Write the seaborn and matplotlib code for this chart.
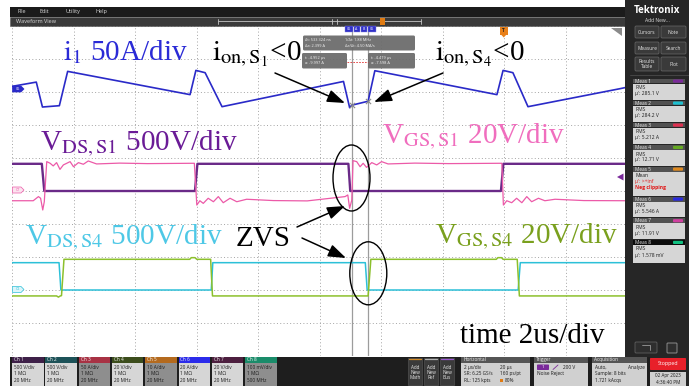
import matplotlib
matplotlib.use("Agg")
import matplotlib.pyplot as plt
import seaborn as sns
import pandas as pd
import numpy as np
from matplotlib.patches import Rectangle, FancyBboxPatch, Ellipse, Polygon

sns.set_theme(style="white")
plt.rcParams["font.family"] = ["Open Sans", "DejaVu Sans"]
plt.rcParams["mathtext.fontset"] = "stix"

W, H = 689, 386
# graticule edges in screen pixels
GX0, GX1, GY0, GY1 = 12, 627, 26, 356

# horizontal: 2 us/div, 20 us record, trigger at 80 %
T_MIN, T_MAX, T_DIV = -16.0, 4.0, 2.0

# ---------------- acquired waveforms ----------------
# Ch6 - inductor current i1 [A]
i1_t = [-16.0, -15.21, -15.01, -14.46, -14.19, -10.21, -10.02, -9.72, -9.17,
        -5.22, -5.02, -4.952, -4.419, -4.20, -0.23, -0.03, 0.29, 0.78, 3.77, 4.0]
i1_a = [1.4, 4.0, -11.1, -10.3, 10.5, -3.6, 11.1, 9.7, -10.9,
        4.4, -11.5, -10.0, -7.6, 10.9, -3.6, 11.1, 9.7, -10.9, 0.0, 0.9]

# Ch1 - drain-source voltage of S1 [V]
vds1_t = [-16.0, -15.03, -14.95, -10.05, -9.97, -5.06, -5.00, -0.10, -0.02, 4.0]
vds1_v = [412, 412, 0, 0, 412, 412, 0, 0, 412, 412]

# Ch7 - gate-source voltage of S1 [V]
vgs1_t = [-16.0, -15.31, -15.14, -15.07, -15.00, -14.95, -14.87, -14.76, -14.66,
          -14.55, -14.44, -14.33, -14.22, -14.11, -14.00, -13.84, -13.68, -13.52,
          -13.25, -12.5, -11.6, -10.13, -10.07, -9.99, -9.89, -9.78, -9.62,
          -9.45, -9.29, -9.13, -8.91, -8.69, -8.37, -7.5, -6.4, -5.17,
          -5.08, -5.02, -4.95, -4.91, -4.79, -4.68, -4.58, -4.47, -4.30,
          -4.14, -3.98, -3.77, -2.9, -1.8, -0.13, -0.07, -0.02, 0.09,
          0.25, 0.41, 0.58, 0.74, 0.90, 1.12, 1.33, 1.66, 2.6, 4.0]
vgs1_v = [-5.9, -5.9, -3.4, -4.4, -11.5, -6.5, 17.8, 16.8, 15.2,
          17.2, 13.1, 15.8, 16.8, 17.8, 14.7, 17.2, 16.2, 18.2,
          16.4, 16.9, 16.6, 16.8, 16.8, -8.5, -5.9, -7.5, -4.4,
          -6.5, -3.4, -7.1, -4.4, -6.5, -5.0, -5.8, -6.0, -3.4,
          -2.4, -10.5, -5.5, 18.4, 17.8, 14.7, 16.8, 14.3, 17.2,
          15.8, 17.8, 16.4, 16.9, 16.6, 16.8, 16.8, -8.5, -5.9,
          -7.1, -4.4, -7.1, -3.4, -6.5, -4.4, -5.9, -5.0, -5.8, -5.9]

# Ch2 - drain-source voltage of S4 [V]
vds4_t = [-16.0, -14.47, -14.41, -9.52, -9.47, -4.51, -4.45, 0.46, 0.53, 4.0]
vds4_v = [414, 414, 0, 0, 414, 414, 0, 0, 414, 414]

# Ch4 - gate-source voltage of S4 [V]
vgs4_t = [-16.0, -14.55, -14.49, -14.43, -14.39, -14.31, -10.22, -10.17, -10.05,
          -9.99, -9.54, -9.48, -4.42, -4.33, -0.25, -0.20, -0.08, -0.03,
          0.43, 0.50, 4.0]
vgs4_v = [-3.6, -3.6, -4.3, -3.6, -3.4, 18.6, 18.6, 19.6, 19.6,
          18.6, 18.6, -3.6, -3.6, 18.6, 18.6, 19.6, 19.6, 18.6,
          18.6, -3.6, -3.6]

# cursor readouts on Ch6
cursor_t = [-4.952, -4.419]
cursor_a = [-9.997, -7.598]

# vertical settings: units per division and position (div)
CHANNELS = [
    ("Ch1", vds1_t, vds1_v, 500.0, 0.0, "#6a2a88", 1.7),
    ("Ch2", vds4_t, vds4_v, 500.0, -3.0, "#2cc0d8", 1.1),
    ("Ch4", vgs4_t, vgs4_v, 20.0, -3.0, "#8cc02c", 1.1),
    ("Ch6", i1_t, i1_a, 20.0, 3.1, "#2a2ac8", 1.2),
    ("Ch7", vgs1_t, vgs1_v, 20.0, 0.0, "#ec5aa8", 0.9),
]
CH6_SCALE, CH6_POS = 20.0, 3.1

fig = plt.figure(figsize=(W / 100, H / 100), dpi=100, facecolor="white")

# ---------------- waveform graticule ----------------
ax = fig.add_axes([GX0 / W, 1 - GY1 / H, (GX1 - GX0) / W, (GY1 - GY0) / H], zorder=1)
ax.set_facecolor("white")
for name, t, v, scale, pos, color, lw in CHANNELS:
    df = pd.DataFrame({"t": t, "value": v})
    df["div"] = df["value"] / scale + pos
    sns.lineplot(data=df, x="t", y="div", ax=ax, color=color, linewidth=lw,
                 estimator=None, sort=False, legend=False)

for tc in cursor_t:
    ax.axvline(tc, color="#9c9c9c", lw=0.9, zorder=0.5)
ax.scatter(cursor_t, [a / CH6_SCALE + CH6_POS for a in cursor_a], marker="x",
           s=14, color="#8a8a8a", linewidths=0.8, zorder=5)

ax.set_xlim(T_MIN, T_MAX)
ax.set_ylim(-5, 5)
ax.set_xticks(np.arange(T_MIN, T_MAX + 0.01, T_DIV))
ax.set_yticks(np.arange(-5, 6, 1))
ax.grid(True, linestyle=(0, (1, 2.4)), color="#a4a4a4", linewidth=0.7)
ax.tick_params(length=0, labelbottom=False, labelleft=False)
ax.set_xlabel("")
ax.set_ylabel("")
for s in ax.spines.values():
    s.set_visible(False)

# ---------------- instrument frame ----------------
ov = fig.add_axes([0, 0, 1, 1], zorder=3)
ov.set_facecolor("none")
ov.set_xlim(0, W)
ov.set_ylim(H, 0)
ov.axis("off")


def box(x0, y0, x1, y1, fc, ec="none", lw=0.0, r=0.0, z=2, alpha=1.0):
    if r > 0:
        p = FancyBboxPatch((x0, y0), x1 - x0, y1 - y0,
                           boxstyle=f"round,pad=0,rounding_size={r}",
                           fc=fc, ec=ec, lw=lw, zorder=z, alpha=alpha)
    else:
        p = Rectangle((x0, y0), x1 - x0, y1 - y0, fc=fc, ec=ec, lw=lw,
                      zorder=z, alpha=alpha)
    ov.add_patch(p)


def label(x, y, s, size=3.8, color="#e6e6e6", ha="left", va="center",
          weight="normal", z=4, **kw):
    ov.text(x, y, s, fontsize=size, color=color, ha=ha, va=va,
            fontweight=weight, zorder=z, **kw)


# menu bar and view title bar
box(10, 7, 625, 16.5, "#1b1b1b")
for s, x in [("File", 17), ("Edit", 40), ("Utility", 65), ("Help", 95)]:
    label(x, 11.8, s, size=4.0, color="#d8d8d8")
box(10, 16.5, 625, 26, "#3a3a3a", ec="#555555", lw=0.4)
label(16, 21.3, "Waveform View", size=4.0, color="#d8d8d8")
ov.plot([218, 421], [21.3, 21.3], color="#c4c4c4", lw=0.6, zorder=3)
for x in (218, 421, 332, 337):
    ov.plot([x, x], [18.5, 24], color="#c4c4c4", lw=0.6, zorder=3)
box(380, 17.8, 384.5, 24.5, "#e07b12", z=4)

# right control panel
box(625, 0, 689, 386, "#262626", z=2)
label(657, 10.5, "Tektronix", size=7.0, color="white", ha="center", weight="bold")
label(657, 20.5, "Add New...", size=3.6, color="#dcdcdc", ha="center")
buttons = [("Cursors", 635, 26, 659, 38), ("Note", 661, 26, 686, 38),
           ("Measure", 635, 42, 659, 54), ("Search", 661, 42, 686, 54),
           ("Results\nTable", 635, 57, 659, 71), ("Plot", 661, 57, 686, 71)]
for s, x0, y0, x1, y1 in buttons:
    box(x0, y0, x1, y1, "#3a3a3a", ec="#6a6a6a", lw=0.5, r=1.2, z=3)
    label((x0 + x1) / 2, (y0 + y1) / 2, s, size=3.5, color="#e8e8e8",
          ha="center", linespacing=0.9)
ov.plot([630, 689], [75, 75], color="#4a4a4a", lw=0.6, zorder=3)

meas_names = ["Meas 1", "Meas 2", "Meas 3", "Meas 4", "Meas 5", "Meas 6", "Meas 7", "Meas 8"]
meas_kind = ["RMS", "RMS", "RMS", "RMS", "Mean", "RMS", "RMS", "RMS"]
meas_value = ["μ': 285.1 V", "μ': 284.2 V", "μ': 5.212 A", "μ': 12.71 V",
              "μ': >+inf", "μ': 5.546 A", "μ': 11.91 V", "μ': 1.578 mV"]
meas_badge = ["#7a2a9a", "#1fc0d0", "#e03050", "#66aa22", "#e08a20",
              "#2a2ae0", "#d040a0", "#10c080"]
meas_top = [78.7, 100.7, 122.7, 145.0, 166.7, 196.7, 218.3, 240.0]
meas_bot = [100.0, 122.0, 144.0, 166.0, 196.0, 217.0, 239.0, 263.0]
for i in range(8):
    y0, y1 = meas_top[i], meas_bot[i]
    hdr = "#0c0c0c" if i == 7 else "#525252"
    box(633, y0, 685, y0 + 4.8, hdr, z=3)
    box(633, y0 + 4.8, 685, y1, "#d6d6d6", z=3)
    label(635, y0 + 2.5, meas_names[i], size=3.4, color="#f0f0f0")
    box(673, y0 + 0.8, 683, y0 + 4.0, meas_badge[i], r=1.0, z=4)
    label(635, y0 + 9.0, meas_kind[i], size=3.6, color="#1e1e1e")
    vc = "#e01818" if i == 4 else "#1e1e1e"
    label(635, y0 + 15.0, meas_value[i], size=3.6, color=vc)
    if i == 4:
        label(635, y0 + 21.0, "Neg clipping", size=3.6, color="#e01818", weight="bold")

# zoom and delete icons
box(635, 342, 657, 353, "#2e2e2e", ec="#6a6a6a", lw=0.5, r=1.0, z=3)
ov.plot([642, 650, 650], [345, 345, 350], color="#b0b0b0", lw=0.5, zorder=4)
box(667, 343, 677, 353, "#2e2e2e", ec="#9a9a9a", lw=0.6, r=0.8, z=3)

# bottom status bar
box(10, 356.5, 650, 386, "#1e1e1e", z=2)
ch_names = ["Ch 1", "Ch 2", "Ch 3", "Ch 4", "Ch 5", "Ch 6", "Ch 7", "Ch 8"]
ch_scale = ["500 V/div", "500 V/div", "50 A/div", "20 V/div", "10 A/div",
            "20 A/div", "20 V/div", "100 mV/div"]
ch_bw = ["20 MHz", "20 MHz", "20 MHz", "20 MHz", "20 MHz", "20 MHz", "20 MHz", "500 MHz"]
ch_head = ["#3e2048", "#1d5258", "#a83244", "#3c4d1c", "#b46a1e",
           "#2b2bea", "#4d1f3f", "#1a8c6a"]
ch_body = ["#d6d6d6", "#d6d6d6", "#8e8e8e", "#d6d6d6", "#8e8e8e",
           "#d6d6d6", "#d6d6d6", "#8e8e8e"]
for i in range(8):
    x0 = 12 + i * 33.3
    box(x0, 357, x0 + 31.5, 362.5, ch_head[i], z=3)
    box(x0, 362.5, x0 + 31.5, 385.5, ch_body[i], z=3)
    label(x0 + 2, 359.9, ch_names[i], size=3.4, color="#f4f4f4")
    for s, y in [(ch_scale[i], 367.3), ("1 MΩ", 373.8), (ch_bw[i], 380.5)]:
        label(x0 + 2, y, s, size=3.4, color="#1a1a1a")

for j, (s, c) in enumerate([("Add\nNew\nMath", "#d08a2a"), ("Add\nNew\nRef", "#b0b0b0"),
                            ("Add\nNew\nBus", "#9a5ad0")]):
    x0 = 408 + j * 16
    box(x0, 358, x0 + 14, 385, "#3a3a3a", ec="#5a5a5a", lw=0.4, z=3)
    ov.plot([x0 + 1, x0 + 13], [359, 359], color=c, lw=0.9, zorder=4)
    label(x0 + 7, 372.5, s, size=3.3, color="#e8e8e8", ha="center", linespacing=0.95)

panels = [("Horizontal", 461, 530), ("Trigger", 534, 588), ("Acquisition", 592, 647)]
for s, x0, x1 in panels:
    box(x0, 357, x1, 362.5, "#555555", z=3)
    box(x0, 362.5, x1, 385.5, "#d0d0d0", z=3)
    label(x0 + 2, 359.9, s, size=3.4, color="#f0f0f0")
dark = "#1a1a1a"
label(464, 367.3, "2 µs/div", size=3.4, color=dark)
label(500, 367.3, "20 µs", size=3.4, color=dark)
label(464, 373.8, "SR: 6.25 GS/s", size=3.4, color=dark)
label(500, 373.8, "160 ps/pt", size=3.4, color=dark)
label(464, 380.5, "RL: 125 kpts", size=3.4, color=dark)
box(500, 378.8, 503, 382.0, "#e07b12", z=4)
label(505, 380.5, "80%", size=3.4, color=dark)
box(537, 364.5, 549, 370.0, "#7a2a9a", r=0.8, z=4)
label(543, 367.3, "1", size=3.2, color="white", ha="center")
ov.plot([553, 558], [369.5, 365], color="#7a2a9a", lw=0.6, zorder=4)
label(563, 367.3, "200 V", size=3.4, color=dark)
label(537, 373.8, "Noise Reject", size=3.4, color=dark)
label(595, 367.3, "Auto,", size=3.4, color=dark)
label(645, 367.3, "Analyze", size=3.4, color=dark, ha="right")
label(595, 373.8, "Sample: 8 bits", size=3.4, color=dark)
label(595, 380.5, "1.721 kAcqs", size=3.4, color=dark)

box(650, 358, 686, 370, "#e8202a", r=0.8, z=3)
label(668, 364, "Stopped", size=3.8, color="white", ha="center")
box(650, 372, 686, 385.5, "#d0d0d0", z=3)
label(668, 376, "02 Apr 2023", size=3.3, color=dark, ha="center")
label(668, 382, "4:36:40 PM", size=3.3, color=dark, ha="center")

# channel ground markers on the left edge
for y, fc, ec, tc, s in [(89, "#2a2ac8", "#2a2ac8", "white", "C6"),
                         (190, "#fbe4ef", "#ec5aa8", "#ec5aa8", "C7"),
                         (289.5, "#dcf5fa", "#2cc0d8", "#2cc0d8", "C2")]:
    ov.add_patch(Polygon([(12.5, y - 3), (21, y - 3), (24, y), (21, y + 3), (12.5, y + 3)],
                         closed=True, fc=fc, ec=ec, lw=0.5, zorder=4))
    label(17.5, y, s, size=2.6, color=tc, ha="center")
ov.add_patch(Polygon([(617, 177), (623.5, 173.5), (623.5, 180.5)], closed=True,
                     fc="#7a2a9a", ec="none", zorder=4))
ov.add_patch(Polygon([(611, 28), (622, 28), (622, 36)], closed=True,
                     fc="#8a8a8a", ec="none", zorder=4))

# cursor handles and trigger marker
for s, x0, x1 in [("C6", 345, 352.5), ("A", 353.5, 359.5), ("B", 360.5, 366.5), ("C6", 368, 376)]:
    box(x0, 25.5, x1, 31.5, "#3030c8", ec="#8a8ae0", lw=0.3, z=4)
    label((x0 + x1) / 2, 28.5, s, size=2.6, color="white", ha="center", z=5)
box(500, 27, 507.5, 34.5, "#e8801a", z=4)
label(503.75, 30.8, "T", size=3.4, color="#222222", ha="center", weight="bold", z=5)
ov.add_patch(Polygon([(501, 34.5), (506.5, 34.5), (503.75, 37.5)], closed=True,
                     fc="#e8801a", ec="none", zorder=4))

# cursor readouts
box(303, 35.5, 415, 50.5, "#6c6c6c", r=1.5, z=4, alpha=0.95)
box(302, 53, 347, 68.5, "#6c6c6c", r=1.5, z=4, alpha=0.95)
box(368, 53, 415, 68.5, "#6c6c6c", r=1.5, z=4, alpha=0.95)
ov.plot([347, 368], [62, 62], color="#e03030", lw=0.6, ls=(0, (2, 1.5)), zorder=4)
rd = dict(size=2.8, color="#f4f4f4", z=5)
label(305, 40.3, "Δt: 533.324 ns", **rd)
label(305, 46.0, "Δa: 2.399 A", **rd)
label(345, 40.3, "1/Δt: 1.88 MHz", **rd)
label(345, 46.0, "Δa/Δt: 4.50 MA/s", **rd)
label(305, 57.5, f"t: {cursor_t[0]:.3f} µs", **rd)
label(305, 63.5, f"a: {cursor_a[0]:.3f} A", **rd)
label(371, 57.5, f"t: {cursor_t[1]:.3f} µs", **rd)
label(371, 63.5, f"a: {cursor_a[1]:.3f} A", **rd)

# ---------------- annotations ----------------
SERIF = ["Liberation Serif", "DejaVu Serif"]
FS = 21


def note(x, y, s, color, size=FS):
    ov.text(x, y, s, fontsize=size, color=color, ha="left", va="baseline",
            family=SERIF, zorder=6)


note(63, 60, r"$\mathrm{i}_{1}$ 50A/div", "#2a2ad6")
note(212, 60, r"$\mathrm{i}_{\mathrm{on,S}_{1}}$<0", "black")
note(435, 60, r"$\mathrm{i}_{\mathrm{on,S}_{4}}$<0", "black")
note(40, 150, r"V$_{\mathrm{DS,S1}}$ 500V/div", "#6a1b96")
note(382, 143, r"V$_{\mathrm{GS,S1}}$ 20V/div", "#f06ebe")
note(25, 244, r"V$_{\mathrm{DS,S4}}$ 500V/div", "#4ec8e6")
note(435, 243, r"V$_{\mathrm{GS,S4}}$ 20V/div", "#7aa01e")
note(236, 246, "ZVS", "black")
note(460, 343, "time 2us/div", "black")

arrow = dict(arrowstyle="-|>,head_length=0.9,head_width=0.32", color="black",
             lw=1.1, shrinkA=0, shrinkB=0, mutation_scale=12)
for start, tip in [((275, 73), (345, 103)), ((443, 73), (374, 102)),
                   ((297, 227), (345, 206)), ((302, 238), (346, 258))]:
    ov.annotate("", xy=tip, xytext=start, arrowprops=arrow, zorder=6)
ov.add_patch(Ellipse((351.5, 178), 37, 66, fill=False, ec="black", lw=1.0, zorder=6))
ov.add_patch(Ellipse((368.3, 273.3), 37, 63, fill=False, ec="black", lw=1.0, zorder=6))

fig.savefig("out.png", dpi=100, facecolor="white")
